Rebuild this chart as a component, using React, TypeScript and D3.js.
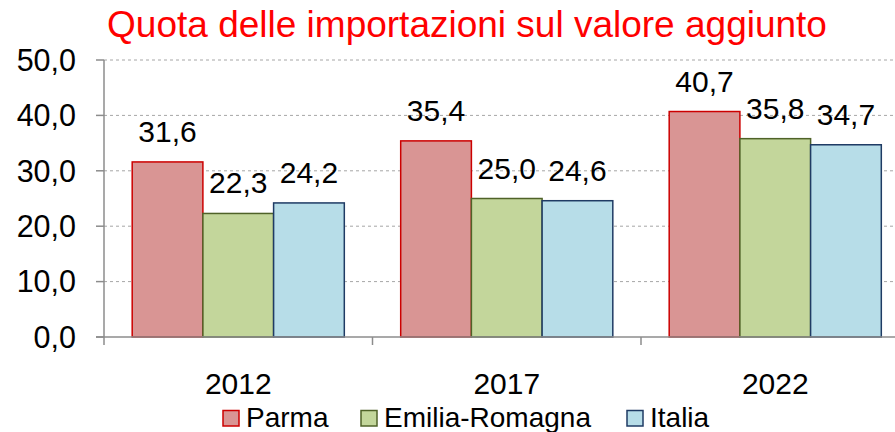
import React from "react";
import * as d3 from "d3";

const categories = ["2012", "2017", "2022"];
const seriesNames = ["Parma", "Emilia-Romagna", "Italia"];
const parma = [31.6, 35.4, 40.7];
const emiliaRomagna = [22.3, 25.0, 35.8];
const italia = [24.2, 24.6, 34.7];
const yTicks = [0, 10, 20, 30, 40, 50];
const fills = ["#D99594", "#C3D69B", "#B7DDE8"];
const strokes = ["#CC0000", "#4F6228", "#1F3B64"];

export default function App() {
  const W = 895, H = 432;
  const left = 104, bandW = 268.5;
  const x = d3.scaleBand<string>().domain(categories).range([left, left + bandW * 3]).paddingInner(0.21).paddingOuter(0.105);
  const y = d3.scaleLinear().domain([0, 50]).range([337, 60]);
  const series = [parma, emiliaRomagna, italia];
  const inner = d3.scaleBand<number>().domain([0, 1, 2]).range([0, x.bandwidth()]);
  const fmt = (v: number) => v.toFixed(1).replace(".", ",");
  const font = "'Liberation Sans', Arial, sans-serif";
  const legendX = [223, 361, 627];
  return (
    <svg width={W} height={H} style={{ position: "absolute", left: 0, top: 0 }} fontFamily={font}>
      <rect width={W} height={H} fill="#fff" />
      <text x={467} y={37} textAnchor="middle" fontSize={37} fill="#FF0000">
        Quota delle importazioni sul valore aggiunto
      </text>
      {yTicks.filter((t) => t > 0).map((t) => (
        <line key={"g" + t} x1={left} x2={W} y1={y(t)} y2={y(t)} stroke="#A6A6A6" strokeDasharray="3,3" strokeWidth={1} />
      ))}
      {categories.map((c, ci) =>
        series.map((s, si) => {
          const bx = (x(c) as number) + (inner(si) as number);
          const bw = inner.bandwidth();
          return (
            <g key={c + si}>
              <rect x={bx} y={y(s[ci])} width={bw} height={y(0) - y(s[ci])} fill={fills[si]} stroke={strokes[si]} strokeWidth={1.5} />
              <text x={bx + bw / 2} y={y(s[ci]) - 20} textAnchor="middle" fontSize={30} fill="#000">
                {fmt(s[ci])}
              </text>
            </g>
          );
        })
      )}
      <line x1={left} x2={left} y1={y(50)} y2={345} stroke="#8C8C8C" strokeWidth={1.5} />
      <line x1={96} x2={W} y1={y(0)} y2={y(0)} stroke="#8C8C8C" strokeWidth={1.5} />
      {yTicks.map((t) => (
        <g key={"t" + t}>
          <line x1={96} x2={left} y1={y(t)} y2={y(t)} stroke="#8C8C8C" strokeWidth={1.5} />
          <text x={76} y={y(t) + 10.7} textAnchor="end" fontSize={30.5} fill="#000">
            {fmt(t)}
          </text>
        </g>
      ))}
      {[1, 2].map((i) => (
        <line key={"xt" + i} x1={left + bandW * i} x2={left + bandW * i} y1={y(0)} y2={345} stroke="#8C8C8C" strokeWidth={1.5} />
      ))}
      {categories.map((c) => (
        <text key={"xl" + c} x={(x(c) as number) + x.bandwidth() / 2} y={394} textAnchor="middle" fontSize={30} fill="#000">
          {c}
        </text>
      ))}
      {seriesNames.map((n, i) => (
        <g key={n}>
          <rect x={legendX[i]} y={410.5} width={16} height={15.5} fill={fills[i]} stroke={strokes[i]} strokeWidth={1.5} />
          <text x={legendX[i] + 23} y={426.5} fontSize={28} fill="#000">
            {n}
          </text>
        </g>
      ))}
    </svg>
  );
}
